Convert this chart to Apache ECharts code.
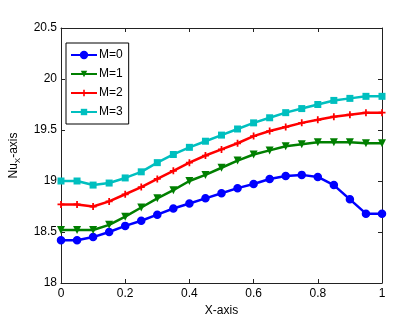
<!DOCTYPE html>
<html><head><meta charset="utf-8">
<script src="https://cdn.jsdelivr.net/npm/echarts@6/dist/echarts.min.js"></script>
<style>html,body{margin:0;padding:0;background:#fff}#c{width:407px;height:326px}</style>
</head><body><div id="c"></div>
<script>
const xValues = [0,0.05,0.1,0.15,0.2,0.25,0.3,0.35,0.4,0.45,0.5,0.55,0.6,0.65,0.7,0.75,0.8,0.85,0.9,0.95,1.0];
const m0 = [18.42,18.42,18.45,18.50,18.56,18.61,18.67,18.73,18.78,18.83,18.88,18.93,18.97,19.02,19.05,19.06,19.04,18.96,18.82,18.68,18.68];
const m1 = [18.52,18.52,18.52,18.57,18.65,18.74,18.83,18.91,19.00,19.06,19.13,19.20,19.26,19.30,19.34,19.36,19.38,19.38,19.38,19.37,19.37];
const m2 = [18.77,18.77,18.75,18.80,18.87,18.94,19.02,19.10,19.18,19.25,19.31,19.37,19.44,19.49,19.53,19.57,19.60,19.63,19.65,19.67,19.67];
const m3 = [19.00,19.00,18.96,18.98,19.03,19.09,19.18,19.26,19.33,19.39,19.45,19.51,19.57,19.62,19.67,19.71,19.75,19.79,19.81,19.83,19.83];
const seriesNames = ['M=0','M=1','M=2','M=3'];
const xTicks = [0,0.2,0.4,0.6,0.8,1];
const yTicks = [18,18.5,19,19.5,20,20.5];

const colors = ['#0000ff','#007f00','#ff0000','#00bfbf'];
const symbols = ['circle','triangle','path://M3,0H5V3H8V5H5V8H3V5H0V3H3Z','rect'];
const symSizes = [7,8,7,7];
const rot = [0,180,0,0];
const allData = [m0,m1,m2,m3];

const font = 'Liberation Sans, Arial, sans-serif';
const chart = echarts.init(document.getElementById('c'), null, {renderer:'canvas'});
const axisCommon = {
  axisLine:{show:true,onZero:false,lineStyle:{color:'#222',width:1}},
  axisTick:{show:true,inside:true,length:4,lineStyle:{color:'#222'}},
  splitLine:{show:false}
};
chart.setOption({
  animation:false,
  backgroundColor:'#fff',
  grid:{left:52,right:25,top:28,bottom:43},
  legend:{
    left:66, top:43, orient:'vertical', itemGap:7, itemWidth:26, itemHeight:8,
    padding:[6,6,6,4],
    borderColor:'#000', borderWidth:1, backgroundColor:'#fff',
    textStyle:{fontFamily:font,fontSize:12,color:'#000',padding:[0,0,0,-3]},
    data:seriesNames
  },
  xAxis:[
    Object.assign({type:'value',min:0,max:1,interval:0.2,position:'bottom',
      name:'X-axis',nameLocation:'middle',nameGap:22,
      nameTextStyle:{fontFamily:font,fontSize:12,color:'#000'},
      axisLabel:{fontFamily:font,fontSize:12,color:'#000',margin:5,
        formatter:v=>xTicks.indexOf(+v.toFixed(2))>=0?String(+v.toFixed(2)):''}},axisCommon),
    Object.assign({type:'value',min:0,max:1,interval:0.2,position:'top',axisLabel:{show:false}},axisCommon)
  ],
  yAxis:[
    Object.assign({type:'value',min:18,max:20.5,interval:0.5,position:'left',
      name:'{a|Nu}{b|X}{a|-axis}',nameLocation:'middle',nameGap:39,nameRotate:90,
      nameTextStyle:{fontFamily:font,fontSize:12,color:'#000',
        rich:{a:{fontFamily:font,fontSize:12,color:'#000',lineHeight:16,verticalAlign:'middle'},
              b:{fontFamily:font,fontSize:8,color:'#000',padding:[6,0,0,0],verticalAlign:'bottom'}}},
      axisLabel:{fontFamily:font,fontSize:12,color:'#000',margin:4,
        formatter:v=>yTicks.indexOf(+v.toFixed(1))>=0?String(+v.toFixed(1)):''}},axisCommon),
    Object.assign({type:'value',min:18,max:20.5,interval:0.5,position:'right',axisLabel:{show:false}},axisCommon)
  ],
  series: allData.map((d,i)=>({
    name:seriesNames[i], type:'line', xAxisIndex:0, yAxisIndex:0,
    data:d.map((v,j)=>[xValues[j],v]),
    symbol:symbols[i], symbolSize:symSizes[i], symbolRotate:rot[i], showSymbol:true,
    lineStyle:{color:colors[i],width:2.5},
    itemStyle:{color:colors[i],borderColor:colors[i],borderWidth:i===0?1.5:0},
    smooth:false
  }))
});
</script></body></html>
